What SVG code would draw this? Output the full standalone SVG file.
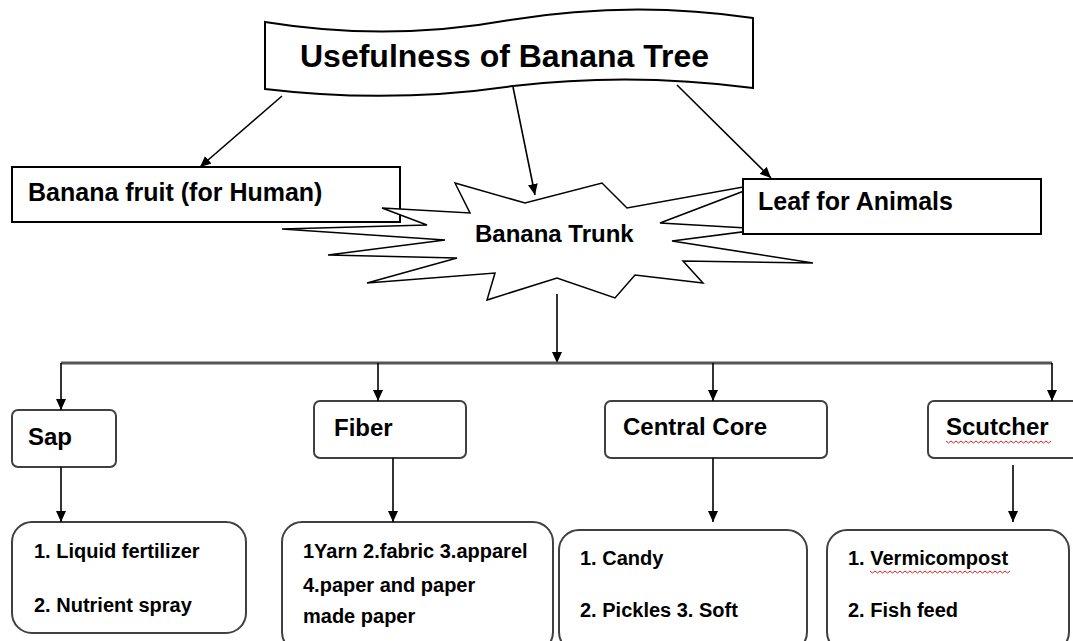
<svg xmlns="http://www.w3.org/2000/svg" width="1073" height="641" viewBox="0 0 1073 641">
<defs>
<style>
.t{font-family:"Liberation Sans",Arial,sans-serif;font-weight:bold;fill:#000}
.lbl{font-size:24px}
.sm{font-size:20px}
.box{fill:#fff;stroke:#000;stroke-width:2}
.rbox{fill:#fff;stroke:#404040;stroke-width:2}
.con{fill:none;stroke:#000;stroke-width:1.6}
.bus{fill:none;stroke:#555;stroke-width:3}
.wavy{fill:none;stroke:#e02020;stroke-width:1}
</style>
<marker id="ah" markerUnits="userSpaceOnUse" markerWidth="12" markerHeight="10" refX="11" refY="5" orient="auto">
<path d="M0,0 L11,5 L0,10 z" fill="#000"/>
</marker>
</defs>
<rect width="1073" height="641" fill="#fff"/>

<g id="title">
<path class="box" d="M265,22 Q388,42 510,20 Q632,0 753,18 L753,88 Q632,72 513,86 Q390,104 265,89 Z" stroke-width="1.6"/>
<text class="t" x="300" y="67" font-size="32">Usefulness of Banana Tree</text>
</g>

<g id="fruit">
<rect class="box" x="12" y="167" width="388" height="55"/>
<text class="t" x="28" y="201" font-size="25">Banana fruit (for Human)</text>
</g>

<g id="trunk">
<polygon fill="#fff" stroke="#000" stroke-width="1.5" points="455,183 525,203 602,183 627,208 765,183 660,223 765,229 672,241 813,263 683,261 703,283 635,275 615,298 557,278 487,300 495,273 367,283 457,258 328,255 445,240 282,229 427,225 382,208 470,213"/>
<text class="t lbl" x="475" y="242">Banana Trunk</text>
</g>

<g id="leaf">
<rect class="box" x="743" y="179" width="298" height="55"/>
<text class="t" x="758" y="210" font-size="25">Leaf for Animals</text>
</g>

<g id="sap">
<rect class="rbox" x="12" y="410" width="104" height="57" rx="6"/>
<text class="t lbl" x="28" y="445">Sap</text>
</g>
<g id="fiber">
<rect class="rbox" x="314" y="401" width="152" height="57" rx="6"/>
<text class="t lbl" x="334" y="436">Fiber</text>
</g>
<g id="core">
<rect class="rbox" x="605" y="401" width="222" height="57" rx="6"/>
<text class="t lbl" x="623" y="435">Central Core</text>
</g>
<g id="scutcher">
<rect class="rbox" x="928" y="401" width="160" height="57" rx="6"/>
<text class="t lbl" x="946" y="435">Scutcher</text>
<path class="wavy" d="M946,441 l2.5,2 l2.5,-2 l2.5,2 l2.5,-2 l2.5,2 l2.5,-2 l2.5,2 l2.5,-2 l2.5,2 l2.5,-2 l2.5,2 l2.5,-2 l2.5,2 l2.5,-2 l2.5,2 l2.5,-2 l2.5,2 l2.5,-2 l2.5,2 l2.5,-2 l2.5,2 l2.5,-2 l2.5,2 l2.5,-2 l2.5,2 l2.5,-2 l2.5,2 l2.5,-2 l2.5,2 l2.5,-2 l2.5,2 l2.5,-2 l2.5,2 l2.5,-2 l2.5,2 l2.5,-2 l2.5,2 l2.5,-2 l2.5,2 l2.5,-2 l2.5,2 l2.5,-2"/>
</g>

<g id="sap-uses">
<rect class="rbox" x="12" y="522" width="234" height="111" rx="20"/>
<text class="t sm" x="34" y="558">1. Liquid fertilizer</text>
<text class="t sm" x="34" y="612">2. Nutrient spray</text>
</g>
<g id="fiber-uses">
<rect class="rbox" x="282" y="522" width="271" height="130" rx="20"/>
<text class="t sm" x="303" y="558">1Yarn 2.fabric 3.apparel</text>
<text class="t sm" x="303" y="592">4.paper and paper</text>
<text class="t sm" x="303" y="623">made paper</text>
</g>
<g id="core-uses">
<rect class="rbox" x="559" y="530" width="248" height="122" rx="20"/>
<text class="t sm" x="580" y="565">1. Candy</text>
<text class="t sm" x="580" y="617">2. Pickles 3. Soft</text>
</g>
<g id="scutcher-uses">
<rect class="rbox" x="827" y="530" width="242" height="122" rx="20"/>
<text class="t sm" x="848" y="565">1. Vermicompost</text>
<path class="wavy" d="M870,571 l2.5,2 l2.5,-2 l2.5,2 l2.5,-2 l2.5,2 l2.5,-2 l2.5,2 l2.5,-2 l2.5,2 l2.5,-2 l2.5,2 l2.5,-2 l2.5,2 l2.5,-2 l2.5,2 l2.5,-2 l2.5,2 l2.5,-2 l2.5,2 l2.5,-2 l2.5,2 l2.5,-2 l2.5,2 l2.5,-2 l2.5,2 l2.5,-2 l2.5,2 l2.5,-2 l2.5,2 l2.5,-2 l2.5,2 l2.5,-2 l2.5,2 l2.5,-2 l2.5,2 l2.5,-2 l2.5,2 l2.5,-2 l2.5,2 l2.5,-2 l2.5,2 l2.5,-2 l2.5,2 l2.5,-2 l2.5,2 l2.5,-2 l2.5,2 l2.5,-2 l2.5,2 l2.5,-2 l2.5,2 l2.5,-2 l2.5,2 l2.5,-2 l2.5,2 l2.5,-2"/>
<text class="t sm" x="848" y="617">2. Fish feed</text>
</g>

<g id="connectors">
<line class="con" x1="282" y1="96" x2="200" y2="167" marker-end="url(#ah)"/>
<line class="con" x1="513" y1="87" x2="535" y2="195" marker-end="url(#ah)"/>
<line class="con" x1="677" y1="85" x2="771" y2="178" marker-end="url(#ah)"/>
<line class="con" x1="557" y1="294" x2="557" y2="363" marker-end="url(#ah)"/>
<line class="bus" x1="61" y1="363" x2="1052" y2="363"/>
<line class="con" x1="61" y1="363" x2="61" y2="410" marker-end="url(#ah)"/>
<line class="con" x1="378" y1="363" x2="378" y2="401" marker-end="url(#ah)"/>
<line class="con" x1="713" y1="363" x2="713" y2="401" marker-end="url(#ah)"/>
<line class="con" x1="1052" y1="363" x2="1052" y2="401" marker-end="url(#ah)"/>
<line class="con" x1="61" y1="467" x2="61" y2="522" marker-end="url(#ah)"/>
<line class="con" x1="393" y1="458" x2="393" y2="522" marker-end="url(#ah)"/>
<line class="con" x1="713" y1="458" x2="713" y2="522" marker-end="url(#ah)"/>
<line class="con" x1="1013" y1="465" x2="1013" y2="522" marker-end="url(#ah)"/>
</g>
</svg>
